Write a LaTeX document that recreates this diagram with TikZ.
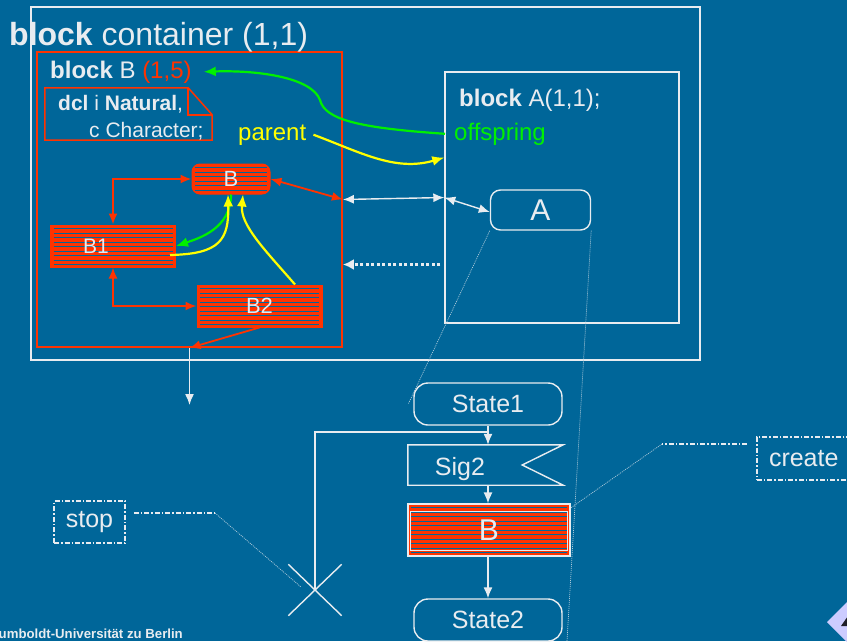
\documentclass[tikz,border=0pt]{standalone}
\usepackage{fontspec}
\setmainfont{Liberation Sans}
\usetikzlibrary{arrows.meta, positioning, calc, shapes.misc}
\definecolor{hubg}{RGB}{0,102,153}
\definecolor{hured}{RGB}{255,51,0}
\definecolor{hufg}{RGB}{232,236,240}
\definecolor{hugreen}{RGB}{0,240,0}
\definecolor{huyellow}{RGB}{255,255,0}
\definecolor{hulav}{RGB}{204,204,255}
\definecolor{hudark}{RGB}{30,30,40}
\newcommand{\fsz}[1]{\fontsize{#1}{#1}\selectfont}

\begin{document}
\begin{tikzpicture}[x=1pt, y=-1pt,
        >={Latex[length=10pt,width=8pt]},
        fgline/.style={draw=hufg, line width=1.4pt},
        redline/.style={draw=hured, line width=1.8pt},
        striped/.style={fill=hured, path picture={
            \foreach \k in {1,...,14}
              \draw[hubg, line width=0.7pt]
                ([xshift=3pt, yshift=-\k*4.5pt+1pt]path picture bounding box.north west) --
                ([xshift=-3pt, yshift=-\k*4.5pt+1pt]path picture bounding box.north east);}},
        proc/.style={striped, draw=hured, line width=1pt, text=hufg, font=\fsz{22}, inner sep=0pt},
        state/.style={fgline, rounded corners=14pt, text=hufg, font=\fsz{25}, minimum width=148pt, minimum height=42pt, inner sep=0pt},
        lbl/.style={text=hufg, inner sep=0pt},
        note/.style={draw=hufg, line width=1.5pt, dash pattern=on 5pt off 2pt on 1.5pt off 2pt, text=hufg, font=\fsz{25}, inner sep=0pt},
        notelink/.style={draw=hufg, line width=1.5pt, dash pattern=on 5pt off 2pt on 1.5pt off 2pt},
        zoomline/.style={draw=hufg!75!hubg, line width=0.7pt, dash pattern=on 1pt off 1pt},
        fgarrow/.style={fgline, >={Latex[length=11pt,width=9pt]}},
        redarrow/.style={redline, >={Latex[length=11pt,width=9pt]}},
        greenarrow/.style={draw=hugreen, line width=2.2pt, ->, >={Latex[length=12pt,width=10pt]}},
        yellowarrow/.style={draw=huyellow, line width=2.2pt, ->, >={Latex[length=12pt,width=10pt]}}
    ]
    \useasboundingbox (0,0) rectangle (847,641);
    \clip (0,0) rectangle (847,641);
    \fill[hubg] (0,0) rectangle (847,641);

    % frames
    \node[fgline, minimum width=669pt, minimum height=353pt, inner sep=0pt] (container) at (365.5,183.5) {};
    \node[redline, minimum width=305pt, minimum height=295pt, inner sep=0pt] (blockB) at (189.5,199.5) {};
    \node[fgline, minimum width=234pt, minimum height=251pt, inner sep=0pt] (blockA) at (562,197.5) {};

    \node[lbl, anchor=base west, font=\fsz{32}] (titleC) at (9,45) {\textbf{block} container (1,1)};
    \node[lbl, anchor=base west, font=\fsz{24}] (titleB) at (50,78) {\textbf{block} B \textcolor{hured}{(1,5)}};
    \node[lbl, anchor=base west, font=\fsz{24}] (titleA) at (459,106) {\textbf{block} A(1,1);};
    \node[text=hugreen, anchor=base west, inner sep=0pt, font=\fsz{24}] (offspring) at (454,140) {offspring};
    \node[text=huyellow, anchor=base west, inner sep=0pt, font=\fsz{24}] (parent) at (238,140) {parent};

    % declaration note
    \node[minimum width=167pt, minimum height=52pt, inner sep=0pt] (noteB) at (128.5,114) {};
    \draw[redline, line width=1.5pt] (noteB.north west) -- ([xshift=-24pt]noteB.north east)
        -- ([yshift=-27pt]noteB.north east) -- (noteB.south east) -- (noteB.south west) -- cycle;
    \draw[redline, line width=1.5pt] ([xshift=-24pt]noteB.north east) -- ([xshift=-24pt,yshift=-27pt]noteB.north east)
        -- ([yshift=-27pt]noteB.north east);
    \node[lbl, anchor=base west, font=\fsz{21}] (noteL1) at (58,110) {\textbf{dcl} i \textbf{Natural},};
    \node[lbl, anchor=base west, font=\fsz{21}] (noteL2) at (89,137) {c Character;};

    % processes in block B
    \node[proc, rounded corners=8pt, minimum width=78pt, minimum height=30pt] (procB) at (231,179) {B};
    \node[proc, minimum width=125pt, minimum height=42pt, font=\fsz{21}] (procB1) at (113,246) {B1\hspace*{34pt}};
    \node[proc, minimum width=125pt, minimum height=42pt] (procB2) at (259.5,306) {B2};
    \node[state, rounded corners=10pt, minimum width=100pt, minimum height=40pt, font=\fsz{30}] (procA) at (540.5,210) {A};

    \draw[redarrow, <->] (procB.west) -| (procB1.north);
    \draw[redarrow, <->] (procB1.south) |- (procB2.west);
    \draw[redarrow, <->] (procB.east) -- (blockB.east);
    \draw[redarrow, ->] (procB2.south) -- (blockB.south);

    \coordinate (exitB) at (189.5,405);
    \draw[fgarrow, ->] (blockB.south) -- (exitB);
    \draw[fgarrow, <->] (blockB.east) -- (blockA.west);
    \draw[fgarrow, <->] (blockA.west) -- ([yshift=-2pt]procA.west);
    \coordinate (dotA) at ([xshift=-4pt,yshift=-67pt]blockA.west);
    \draw[draw=hufg, line width=3pt, dash pattern=on 3pt off 2.5pt, ->, >={Latex[length=11pt,width=11pt]}] (dotA) -- (dotA -| blockB.east);

    % parent / offspring
    \draw[greenarrow] ([xshift=-9pt]offspring.west) .. controls (360,128) and (325,120) .. (320,100)
        .. controls (312,78) and (260,70) .. ([xshift=12pt]titleB.east);
    \draw[yellowarrow] ([xshift=7pt]parent.east) .. controls (360,152) and (395,172) .. ([yshift=40pt]blockA.west);
    \draw[greenarrow] (procB.south) .. controls (231,228) and (200,238) .. (procB1.east);
    \draw[yellowarrow] ([xshift=-6pt,yshift=-9pt]procB1.east) .. controls (220,254) and (229,240) .. ([xshift=-3pt]procB.south);
    \draw[yellowarrow] ([xshift=35.5pt]procB2.north) .. controls (265,250) and (240,225) .. ([xshift=12pt]procB.south);

    % process graph of A
    \node[state] (state1) at (488,404) {State1};
    \node[minimum width=155pt, minimum height=40pt, inner sep=0pt] (sig2) at (485.5,465) {};
    \draw[fgline] (sig2.north west) -- (sig2.north east) -- ([xshift=-41pt]sig2.east)
        -- (sig2.south east) -- (sig2.south west) -- cycle;
    \node[lbl, anchor=base, font=\fsz{25}] (sig2text) at (460,475) {Sig2};
    \node[proc, draw=hufg, line width=1.2pt, minimum width=162pt, minimum height=52pt, font=\fsz{30}] (createB) at (489,530) {B};
    \draw[hufg, line width=0.8pt] ([xshift=3pt,yshift=-8pt]createB.north west) rectangle ([xshift=-3pt,yshift=6pt]createB.south east);
    \node[state] (state2) at (488,620) {State2};
    \node[cross out, draw=hufg, line width=1.4pt, minimum width=52pt, minimum height=50pt, inner sep=0pt] (stopX) at (315,590) {};

    \coordinate (join) at (488,432);
    \draw[fgarrow, ->] (state1.south) -- (state1.south |- sig2.north);
    \draw[fgline] (stopX.center) |- (join);
    \draw[fgarrow, ->] (state1.south |- sig2.south) -- (state1.south |- createB.north);
    \draw[fgarrow, ->] (state1.south |- createB.south) -- (state2.north);

    \coordinate (zoomEnd) at (567,641);
    \draw[zoomline] (procA.south west) -- ([xshift=-5pt]state1.west);
    \draw[zoomline] (procA.south east) -- (zoomEnd);

    % comments
    \node[note, minimum width=71pt, minimum height=42pt] (stopNote) at (89.5,522) {stop};
    \node[note, anchor=west, minimum width=94pt, minimum height=43pt] (createNote) at (756,458.5) {create};
    \coordinate (stopBend) at (215,513);
    \coordinate (createBend) at (662,444);
    \draw[notelink] ([xshift=8pt,yshift=9pt]stopNote.east) -- (stopBend);
    \draw[zoomline] (stopBend) -- ([xshift=-14pt,yshift=3pt]stopX.center);
    \draw[notelink] ([xshift=-9pt,yshift=14.5pt]createNote.west) -- (createBend);
    \draw[zoomline] (createBend) -- ([yshift=22pt]createB.east);

    % footer
    \node[lbl, anchor=base east, font=\bfseries\fsz{13.2}] (footer) at (183,638) {Humboldt-Universität zu Berlin};
    \fill[hulav] (849,600) -- (871,622) -- (849,644) -- (827,622) -- cycle;
    \fill[hudark] (841,626) -- (848,616) -- (848,626) -- cycle;
\end{tikzpicture}
\end{document}
